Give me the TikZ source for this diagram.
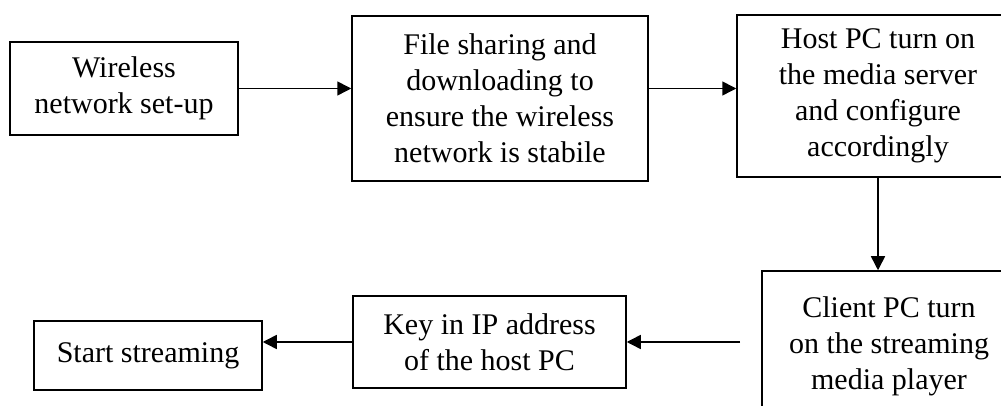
\documentclass[tikz,border=0pt]{standalone}
\usepackage{fontspec}
\setmainfont{Liberation Serif}
\usetikzlibrary{arrows.meta}
\begin{document}
\begin{tikzpicture}[x=1pt,y=1pt,
  box/.style={draw, line width=1.5pt, inner sep=0pt, align=center,
    font=\fontsize{30}{36}\selectfont},
  flow/.style={line width=1.5pt, -{Triangle[length=14pt,width=14pt]}}]
\useasboundingbox (0,0) rectangle (1001,406);
\clip (0,0) rectangle (1001,406);

% top row
\node[box, minimum width=228pt, minimum height=93pt] (wifi) at (124,317.5)
  {Wireless\\network set-up};
\node[box, minimum width=296pt, minimum height=165pt] (share) at (500,307.5)
  {File sharing and\\downloading to\\ensure the wireless\\network is stabile};
\node[box, minimum width=282pt, minimum height=162pt] (host) at (878,310)
  {Host PC turn on\\the media server\\and configure\\accordingly};

% bottom row
\node[box, minimum width=254pt, minimum height=150pt] (client) at (889,60)
  {Client PC turn\\on the streaming\\media player};
\node[box, minimum width=273pt, minimum height=92pt] (key) at (489.5,64)
  {Key in IP address\\of the host PC};
\node[box, minimum width=228pt, minimum height=69pt] (start) at (148,50.5)
  {Start streaming};

\coordinate (tail) at (740,64);

% connectors
\draw[flow] (wifi.east) -- (wifi.east -| share.west);
\draw[flow] (share.east |- wifi.east) -- (host.west |- wifi.east);
\draw[flow] (host.south) -- (host.south |- client.north);
\draw[flow] (tail) -- (key.east);
\draw[flow] (key.west) -- (key.west -| start.east);
\end{tikzpicture}
\end{document}
